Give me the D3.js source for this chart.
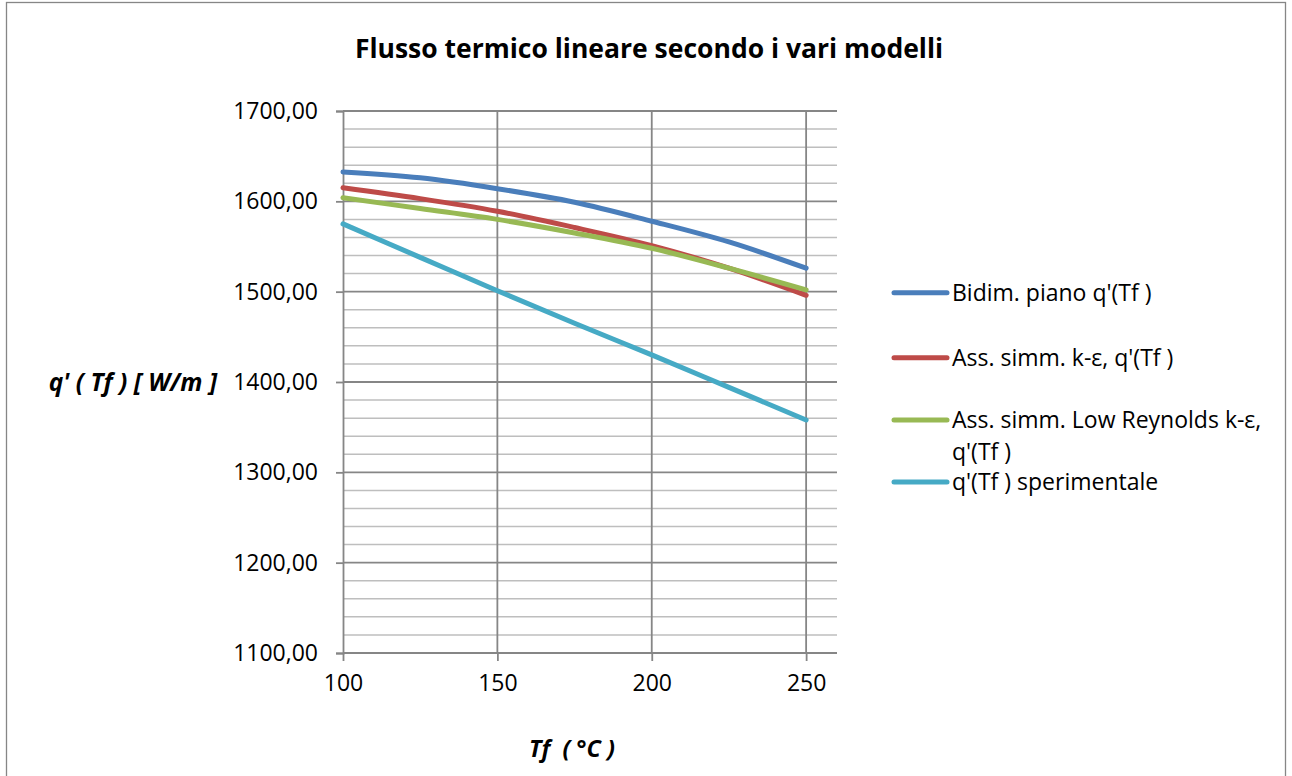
<!DOCTYPE html>
<html>
<head>
<meta charset="utf-8">
<script src="https://cdn.jsdelivr.net/npm/d3@7/dist/d3.min.js"></script>
<style>
  html, body { margin: 0; padding: 0; background: #ffffff; }
  svg { display: block; }
  text { font-family: "Open Sans", "Noto Sans", sans-serif; fill: #000; }
</style>
</head>
<body>
<svg id="chart" width="1292" height="776"></svg>
<script>
// Temperature of the fluid, °C
const tf = [100, 125, 150, 175, 200, 225, 250];

// Linear heat flux q'(Tf) in W/m for each model
const bidimPiano    = [1632.5, 1626, 1614, 1599, 1578, 1555, 1526];
const assSimmKe     = [1615, 1603, 1589, 1571, 1551, 1526, 1496];
const assSimmLowRe  = [1604, 1592, 1580, 1565, 1548, 1526, 1502];
const sperimentale  = [1575, 1538, 1501, 1465, 1430, 1394, 1358];

const seriesNames = [
  "Bidim. piano q'(Tf )",
  "Ass. simm. k-ε, q'(Tf )",
  "Ass. simm. Low Reynolds k-ε, q'(Tf )",
  "q'(Tf ) sperimentale"
];
const seriesValues = [bidimPiano, assSimmKe, assSimmLowRe, sperimentale];
const seriesColors = ["#4A7EBB", "#BE4B48", "#98B954", "#46AAC5"];

const xTicks = [100, 150, 200, 250];
const yMajorTicks = [1100, 1200, 1300, 1400, 1500, 1600, 1700];
const yMinorTicks = d3.range(1100, 1701, 20).filter(v => v % 100 !== 0);

const titleText = "Flusso termico lineare secondo i vari modelli";
const xTitle = "Tf  ( °C )";
const yTitle = "q' ( Tf ) [ W/m ]";

// ---- layout ----
const svg = d3.select("#chart");
const plot = { left: 343, right: 837, top: 111, bottom: 653 };

const x = d3.scaleLinear().domain([100, 260]).range([plot.left, plot.right]);
const y = d3.scaleLinear().domain([1100, 1700]).range([plot.bottom, plot.top]);

const itLocale = d3.formatLocale({ decimal: ",", thousands: ".", grouping: [3], currency: ["", "€"] });
const fmtY = itLocale.format(".2f");

// outer frame
svg.append("rect")
  .attr("x", 6.5).attr("y", 2.5)
  .attr("width", 1279).attr("height", 790)
  .attr("fill", "#fff")
  .attr("stroke", "#868686").attr("stroke-width", 1.3);

// minor horizontal gridlines
svg.append("g")
  .selectAll("line").data(yMinorTicks).join("line")
  .attr("x1", plot.left).attr("x2", plot.right)
  .attr("y1", d => y(d)).attr("y2", d => y(d))
  .attr("stroke", "#BEBEBE").attr("stroke-width", 1.5);

// major horizontal gridlines
svg.append("g")
  .selectAll("line").data(yMajorTicks).join("line")
  .attr("x1", plot.left).attr("x2", plot.right)
  .attr("y1", d => y(d)).attr("y2", d => y(d))
  .attr("stroke", "#868686").attr("stroke-width", 1.8);

// vertical gridlines
svg.append("g")
  .selectAll("line").data(xTicks.slice(1)).join("line")
  .attr("x1", d => x(d)).attr("x2", d => x(d))
  .attr("y1", plot.top).attr("y2", plot.bottom)
  .attr("stroke", "#868686").attr("stroke-width", 1.8);

// y axis
const yAxis = d3.axisLeft(y).tickValues(yMajorTicks).tickSize(7).tickPadding(18).tickFormat(fmtY);
const gy = svg.append("g").attr("transform", `translate(${plot.left},0)`).call(yAxis);
gy.select(".domain").attr("stroke", "#868686").attr("stroke-width", 1.8);
gy.selectAll(".tick line").attr("stroke", "#868686").attr("stroke-width", 1.8);
gy.selectAll(".tick text")
  .style("font-family", "'Open Sans', sans-serif").style("font-size", "23px").attr("fill", "#000");

// x axis
const xAxis = d3.axisBottom(x).tickValues(xTicks).tickSize(8).tickPadding(14).tickFormat(d3.format("d"));
const gx = svg.append("g").attr("transform", `translate(0,${plot.bottom})`).call(xAxis);
gx.select(".domain").attr("stroke", "#868686").attr("stroke-width", 1.8).attr("d", `M${plot.left},0H${plot.right}`);
gx.selectAll(".tick line").attr("stroke", "#868686").attr("stroke-width", 1.8);
gx.selectAll(".tick text")
  .style("font-family", "'Open Sans', sans-serif").style("font-size", "23px").attr("fill", "#000");

// series lines
const line = d3.line()
  .x((d, i) => x(tf[i]))
  .y(d => y(d))
  .curve(d3.curveCatmullRom.alpha(0.5));

svg.append("g")
  .selectAll("path").data(seriesValues).join("path")
  .attr("d", d => line(d))
  .attr("fill", "none")
  .attr("stroke", (d, i) => seriesColors[i])
  .attr("stroke-width", 5)
  .attr("stroke-linecap", "round")
  .attr("stroke-linejoin", "round");

// title
svg.append("text")
  .attr("x", 649).attr("y", 58)
  .attr("text-anchor", "middle")
  .style("font-size", "26.5px").style("font-weight", "bold")
  .text(titleText);

// axis titles
svg.append("text")
  .attr("x", 572).attr("y", 757)
  .attr("text-anchor", "middle")
  .style("font-size", "23.5px").style("font-weight", "bold").style("font-style", "italic")
  .attr("xml:space", "preserve")
  .text(xTitle);

svg.append("text")
  .attr("x", 217).attr("y", 391)
  .attr("text-anchor", "end")
  .style("font-size", "24.5px").style("font-weight", "bold").style("font-style", "italic")
  .text(yTitle);

// legend
const legendRows = [
  { lines: [seriesNames[0]], y: 292.7 },
  { lines: [seriesNames[1]], y: 357.7 },
  { lines: ["Ass. simm. Low Reynolds k-ε,", "q'(Tf )"], y: 420 },
  { lines: [seriesNames[3]], y: 482 }
];
const lg = svg.append("g");
legendRows.forEach((row, i) => {
  lg.append("line")
    .attr("x1", 894).attr("x2", 947)
    .attr("y1", row.y).attr("y2", row.y)
    .attr("stroke", seriesColors[i]).attr("stroke-width", 5)
    .attr("stroke-linecap", "round");
  row.lines.forEach((t, j) => {
    lg.append("text")
      .attr("x", 952).attr("y", row.y + j * 31.7)
      .attr("dy", "0.35em")
      .style("font-size", "23px")
      .text(t);
  });
});
</script>
</body>
</html>
